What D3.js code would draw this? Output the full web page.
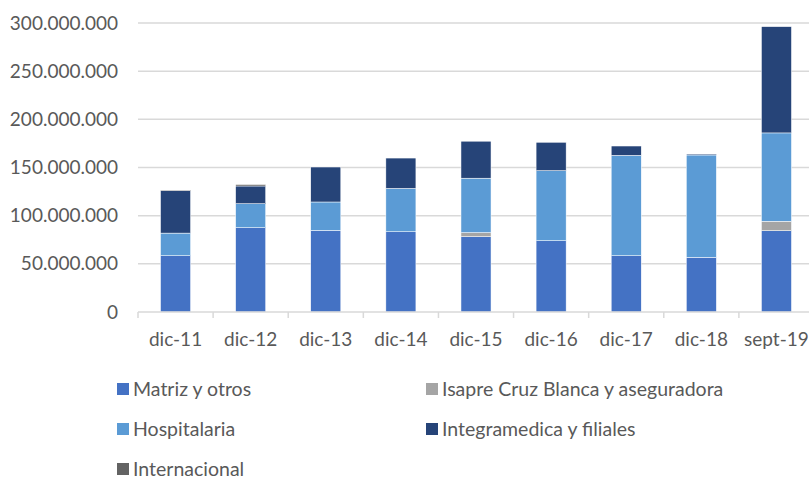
<!DOCTYPE html>
<html>
<head>
<meta charset="utf-8">
<script src="https://cdn.jsdelivr.net/npm/d3@7"></script>
<style>
  body { margin: 0; background: #fff; }
  svg text { font-family: Lato, "Open Sans", sans-serif; fill: #595959; }
</style>
</head>
<body>
<svg width="809" height="480"></svg>
<script>
// chart data (millions)
var categories = ["dic-11", "dic-12", "dic-13", "dic-14", "dic-15", "dic-16", "dic-17", "dic-18", "sept-19"];
var matriz        = [58.4, 87.5, 84.8, 83.3, 78.2, 74.0, 58.4, 56.8, 84.4];
var isapre        = [0, 0, 0, 0, 4.2, 0, 0, 0, 9.8];
var hospitalaria  = [23.5, 24.9, 29.4, 45.0, 56.5, 72.7, 104.2, 106.2, 91.7];
var integramedica = [44.1, 18.4, 36.3, 31.5, 38.4, 29.5, 9.7, 1.0, 110.3];
var internacional = [0.6, 1.5, 0, 0, 0, 0, 0, 0, 0];
var yTicks = [0, 50000000, 100000000, 150000000, 200000000, 250000000, 300000000];

var seriesNames = ["Matriz y otros", "Isapre Cruz Blanca y aseguradora", "Hospitalaria", "Integramedica y filiales", "Internacional"];
var seriesVals = [matriz, isapre, hospitalaria, integramedica, internacional];
var colors = ["#4472C4", "#A5A5A5", "#5B9BD5", "#264478", "#636363"];

var svg = d3.select("svg");

var rows = categories.map(function(c, i) {
  var r = { cat: c };
  seriesNames.forEach(function(s, j) { r[s] = seriesVals[j][i] * 1e6; });
  return r;
});

var x = d3.scaleBand()
    .domain(categories)
    .range([138, 814])
    .paddingInner(0.6)
    .paddingOuter(0.3);

var y = d3.scaleLinear()
    .domain([0, 300000000])
    .range([312, 23]);

var esLocale = d3.formatLocale({ decimal: ",", thousands: ".", grouping: [3], currency: ["$", ""] });
var fmt = esLocale.format(",d");

// gridlines
svg.append("g")
  .selectAll("line")
  .data(yTicks.slice(1))
  .enter().append("line")
    .attr("x1", 138).attr("x2", 814)
    .attr("y1", function(d) { return y(d); })
    .attr("y2", function(d) { return y(d); })
    .attr("stroke", "#D9D9D9")
    .attr("stroke-width", 1.5);

// y labels
svg.append("g")
  .selectAll("text")
  .data(yTicks)
  .enter().append("text")
    .attr("x", 118)
    .attr("y", function(d) { return y(d); })
    .attr("dy", "0.35em")
    .attr("text-anchor", "end")
    .style("font-size", "19px")
    .text(function(d) { return fmt(d); });

// bars
var stack = d3.stack().keys(seriesNames);
var layers = stack(rows);

svg.append("g")
  .selectAll("g")
  .data(layers)
  .enter().append("g")
    .attr("fill", function(d, i) { return colors[i]; })
  .selectAll("rect")
  .data(function(d) { return d; })
  .enter().append("rect")
    .attr("x", function(d) { return x(d.data.cat); })
    .attr("width", x.bandwidth())
    .attr("y", function(d) { return y(d[1]); })
    .attr("height", function(d) { return y(d[0]) - y(d[1]); })
    .attr("stroke", "#fff")
    .attr("stroke-width", function(d) { return d[1] - d[0] > 0 ? 0.5 : 0; });

// x axis
var xAxis = svg.append("g").attr("transform", "translate(0,312)");
xAxis.append("line")
    .attr("x1", 138).attr("x2", 814)
    .attr("stroke", "#D9D9D9").attr("stroke-width", 1.5);
xAxis.selectAll("line.tick")
  .data(categories)
  .enter().append("line")
    .attr("class", "tick")
    .attr("x1", function(d) { return x(d) - x.step() * 0.3; })
    .attr("x2", function(d) { return x(d) - x.step() * 0.3; })
    .attr("y1", 0).attr("y2", 6)
    .attr("stroke", "#D9D9D9").attr("stroke-width", 1.5);
xAxis.selectAll("text")
  .data(categories)
  .enter().append("text")
    .attr("x", function(d) { return x(d) + x.bandwidth() / 2; })
    .attr("y", 34)
    .attr("text-anchor", "middle")
    .style("font-size", "19px")
    .text(function(d) { return d; });

// legend
var legend = svg.append("g")
  .selectAll("g")
  .data(seriesNames)
  .enter().append("g")
    .attr("transform", function(d, i) {
      return "translate(" + (i % 2 === 0 ? 117 : 426) + "," + (389 + Math.floor(i / 2) * 40) + ")";
    });
legend.append("rect")
    .attr("x", 0).attr("y", -6)
    .attr("width", 12).attr("height", 12)
    .attr("fill", function(d, i) { return colors[i]; });
legend.append("text")
    .attr("x", 16)
    .attr("dy", "0.35em")
    .style("font-size", "19.5px")
    .text(function(d) { return d; });
</script>
</body>
</html>
